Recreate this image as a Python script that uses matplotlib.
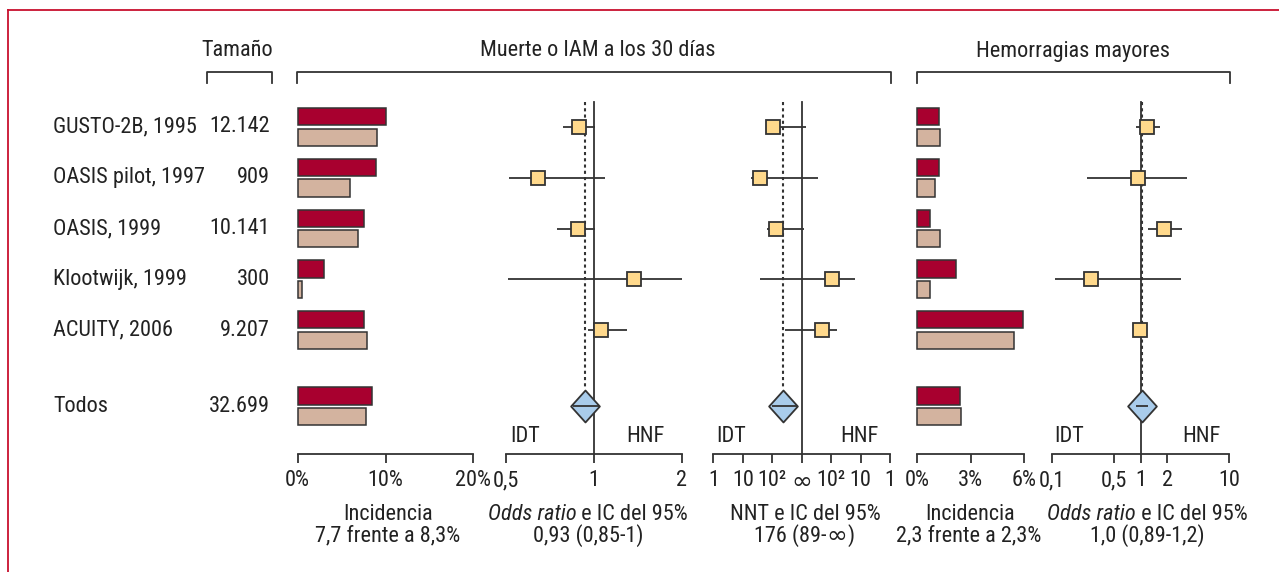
import numpy as np
import matplotlib
matplotlib.use("Agg")
import matplotlib.pyplot as plt
from matplotlib import font_manager as fm
from matplotlib.path import Path

# the reference uses a condensed Helvetica; take a narrow face if one is installed
installed = {f.name for f in fm.fontManager.ttflist}
FONT, FS = "Liberation Sans", 14
for cand in ["Liberation Sans Narrow", "Roboto Condensed", "Open Sans Condensed",
             "Arial Narrow", "Noto Sans Display"]:
    if cand in installed:
        FONT, FS = cand, 16
        break
plt.rcParams['font.family'] = [FONT, 'DejaVu Sans']
INF_FONT = ['DejaVu Sans']   # wider infinity sign, as in the reference
INF_FS = FS + 2

W, H = 1279, 572
RED = "#A8002F"
TAN = "#D3B39F"
SQ = "#FFD98C"
DIA = "#A9CCEB"
EDGE = "#333333"
FRAME = "#C8102E"
TXT = "#222222"

# ---- data ----
studies = ["GUSTO-2B, 1995", "OASIS pilot, 1997", "OASIS, 1999",
           "Klootwijk, 1999", "ACUITY, 2006", "Todos"]
sizes = ["12.142", "909", "10.141", "300", "9.207", "32.699"]
rows = [0, 1, 2, 3, 4, 5.5]

# death / MI at 30 days: incidence (%)
death_inc_idt = [10.0, 8.9, 7.6, 3.0, 7.6, 8.5]
death_inc_hnf = [9.0, 6.0, 6.9, 0.5, 7.9, 7.8]
# odds ratio + 95% CI
death_or = [0.886, 0.642, 0.884, 1.37, 1.06]
death_or_lo = [0.787, 0.51, 0.75, 0.507, 0.954]
death_or_hi = [1.01, 1.09, 1.01, 2.0, 1.30]
death_or_all = 0.93
death_or_all_ci = (0.85, 1.04)
# NNT, on the reference's folded scale (1, 10, 10^2, inf, 10^2, 10, 1 -> -3..3)
nnt_pos = [-0.96, -1.41, -0.86, 1.03, 0.70]
nnt_lo = [-1.22, -1.73, -1.19, -1.42, -0.57]
nnt_hi = [0.14, 0.54, 0.07, 1.80, 1.21]
nnt_all = -0.62
nnt_all_ci = (-1.02, -0.17)
nnt_ticks = [-3, -2, -1, 0, 1, 2, 3]
nnt_labels = ["1", "10", "10²", "∞", "10²", "10", "1"]

# major bleeding: incidence (%)
bleed_inc_idt = [1.24, 1.24, 0.70, 2.16, 5.92, 2.38]
bleed_inc_hnf = [1.29, 0.99, 1.29, 0.70, 5.45, 2.44]
bleed_or = [1.17, 0.94, 1.85, 0.276, 0.99]
bleed_or_lo = [0.885, 0.247, 1.22, 0.108, 0.95]
bleed_or_hi = [1.64, 3.35, 2.94, 2.87, 1.03]
bleed_or_all = 1.03
bleed_or_all_ci = (0.885, 1.21)

fig = plt.figure(figsize=(W / 100, H / 100), dpi=100)
bg = fig.add_axes([0, 0, 1, 1])
bg.set_xlim(0, W)
bg.set_ylim(H, 0)
bg.axis("off")

# frame
bg.plot([8, W + 5], [10, 10], color=FRAME, lw=1.3)
bg.plot([8, 8], [10, H + 5], color=FRAME, lw=1.3)


def bracket(x0, x1, y=72, d=11):
    bg.plot([x0, x0, x1, x1], [y + d, y, y, y + d], color=EDGE, lw=1.3)


def label(x, y, s, ha="center", **kw):
    kw.setdefault("fontsize", FS)
    return bg.text(x, y, s, ha=ha, va="center", color=TXT, **kw)


label(237, 51, "Tamaño")
label(598, 51, "Muerte o IAM a los 30 días")
label(1073, 51, "Hemorragias mayores")
bracket(207, 272)
bracket(297, 891)
bracket(917, 1230)

ROW0, ROWH = 127.0, 50.75
for r, name, n in zip(rows, studies, sizes):
    py = ROW0 + r * ROWH
    label(53, py, name, ha="left")
    label(270, py, n, ha="right")

TOP, AXY = 95, 454
r_top = (TOP - ROW0) / ROWH
r_bot = (AXY - ROW0) / ROWH
r_line = (102 - ROW0) / ROWH
r_dot_end = (389 - ROW0) / ROWH


def panel(x0, x1, xlim, ticks, labels, log=False):
    ax = fig.add_axes([x0 / W, 1 - AXY / H, (x1 - x0) / W, (AXY - TOP) / H])
    ax.patch.set_visible(False)
    if log:
        ax.set_xscale("log")
    ax.set_xlim(*xlim)
    ax.set_ylim(r_bot, r_top)
    for s in ("top", "left", "right"):
        ax.spines[s].set_visible(False)
    ax.spines["bottom"].set_linewidth(1.3)
    ax.spines["bottom"].set_color(EDGE)
    ax.set_yticks([])
    ax.set_xticks(ticks)
    ax.set_xticklabels(labels)
    ax.minorticks_off()
    ax.tick_params(axis="x", direction="out", length=6.5, width=1.3,
                   color=EDGE, labelsize=FS, labelcolor=TXT, pad=5)
    return ax


def bars(ax, idt, hnf):
    y = np.array(rows)
    ax.barh(y - 0.2, idt, height=0.34, color=RED, edgecolor=EDGE, lw=1.1, clip_on=False)
    ax.barh(y + 0.2, hnf, height=0.34, color=TAN, edgecolor=EDGE, lw=1.1, clip_on=False)


DIAMOND = Path([(0, 1), (0.9, 0), (0, -1), (-0.9, 0), (0, 1)],
               [Path.MOVETO, Path.LINETO, Path.LINETO, Path.LINETO, Path.CLOSEPOLY])


def forest(ax, est, lo, hi, pooled, pooled_ci, ref):
    y = rows[:5]
    ax.plot([ref, ref], [r_line, r_bot], color=EDGE, lw=1.3, clip_on=False)
    ax.plot([pooled, pooled], [r_line, r_dot_end], color=EDGE, lw=1.5,
            ls=(0, (1.5, 1.5)), clip_on=False)
    ax.hlines(y, lo, hi, color=EDGE, lw=1.3, zorder=3, clip_on=False)
    ax.plot(est, y, ls="none", marker="s", ms=10, mfc=SQ, mec=EDGE, mew=1.3,
            zorder=4, clip_on=False)
    ax.plot([pooled], [rows[5]], ls="none", marker=DIAMOND, ms=23, mfc=DIA,
            mec=EDGE, mew=1.3, zorder=4, clip_on=False)
    ax.hlines([rows[5]], pooled_ci[0], pooled_ci[1], color=EDGE, lw=1.3,
              zorder=5, clip_on=False)


a1 = panel(297.7, 473.3, (0, 20), [0, 10, 20], ["0%", "10%", "20%"])
bars(a1, death_inc_idt, death_inc_hnf)

a2 = panel(506, 681.7, (0.5, 2), [0.5, 1, 2], ["0,5", "1", "2"], log=True)
forest(a2, death_or, death_or_lo, death_or_hi, death_or_all, death_or_all_ci, 1)

a3 = panel(713.3, 890, (-3, 3), nnt_ticks, nnt_labels)
forest(a3, nnt_pos, nnt_lo, nnt_hi, nnt_all, nnt_all_ci, 0)
for t in a3.get_xticklabels():
    if t.get_text() == "∞":
        t.set_fontfamily(INF_FONT)
        t.set_fontsize(INF_FS)

a4 = panel(917.3, 1024, (0, 6), [0, 3, 6], ["0%", "3%", "6%"])
bars(a4, bleed_inc_idt, bleed_inc_hnf)

a5 = panel(1051.7, 1229.3, (0.1, 10), [0.1, 0.5, 1, 2, 10],
           ["0,1", "0,5", "1", "2", "10"], log=True)
forest(a5, bleed_or, bleed_or_lo, bleed_or_hi, bleed_or_all, bleed_or_all_ci, 1)

# IDT / HNF labels
for xl, xr in [(510, 664), (716.7, 879), (1054, 1220.7)]:
    label(xl, 437, "IDT", ha="left")
    label(xr, 437, "HNF", ha="right")

renderer = fig.canvas.get_renderer()


def segments(xc, y, parts):
    """Centre a line made of differently styled pieces on xc."""
    texts = [label(0, y, s, ha="left", **kw) for s, kw in parts]
    widths = [t.get_window_extent(renderer).width for t in texts]
    x = xc - sum(widths) / 2
    for t, w in zip(texts, widths):
        t.set_x(x)
        x += w


Y1, Y2 = 515, 536
label(388, Y1, "Incidencia")
label(388, Y2, "7,7 frente a 8,3%")
segments(588, Y1, [("Odds ratio", {"style": "italic"}), (" e IC del 95%", {})])
label(588, Y2, "0,93 (0,85-1)")
label(805, Y1, "NNT e IC del 95%")
segments(804, Y2, [("176 (89-", {}),
                   ("∞", {"family": INF_FONT, "fontsize": INF_FS}),
                   (")", {})])
label(970, Y1, "Incidencia")
label(969, Y2, "2,3 frente a 2,3%")
segments(1147, Y1, [("Odds ratio", {"style": "italic"}), (" e IC del 95%", {})])
label(1147, Y2, "1,0 (0,89-1,2)")

fig.savefig("out.png", dpi=100)
